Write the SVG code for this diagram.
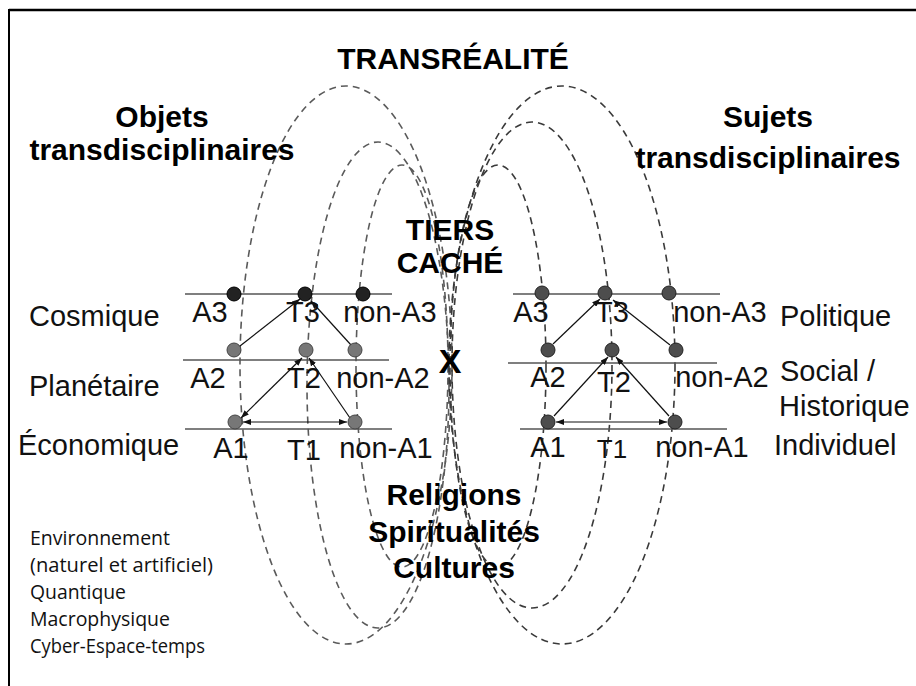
<svg xmlns="http://www.w3.org/2000/svg" width="916" height="686" viewBox="0 0 916 686">
  <style>
    .bold { font-family: "Liberation Sans", Arial, sans-serif; font-weight: bold; font-size: 30px; fill: #000; text-anchor: middle; }
    .lab { font-family: "Liberation Sans", Arial, sans-serif; font-size: 29px; fill: #111; }
    .mid { text-anchor: middle; }
    .small { font-family: "Open Sans", "Noto Sans", sans-serif; font-size: 19.5px; fill: #111; }
    .ellL { fill: none; stroke: #5a5a5a; stroke-width: 1.6; stroke-dasharray: 7 5; }
    .ellR { fill: none; stroke: #3a3a3a; stroke-width: 1.6; stroke-dasharray: 7 5; }
    .hline { stroke: #555; stroke-width: 1.5; }
    .arrow { stroke: #111; stroke-width: 1.2; fill: none; }
    .dotTopL { fill: #222; stroke: #000; stroke-width: 1; }
    .dotL { fill: #777; stroke: #444; stroke-width: 1; }
    .dotR { fill: #4d4d4d; stroke: #222; stroke-width: 1; }
  </style>
  <defs>
    <marker id="ah" markerWidth="8" markerHeight="6" refX="8" refY="3" orient="auto-start-reverse" markerUnits="userSpaceOnUse">
      <path d="M0,0 L8,3 L0,6 z" fill="#111"/>
    </marker>
  </defs>
  <rect width="916" height="686" fill="#fff"/>
  <g id="frame">
    <line x1="9" y1="10" x2="916" y2="10" stroke="#000" stroke-width="2.5"/>
    <line x1="9" y1="9" x2="9" y2="686" stroke="#000" stroke-width="2"/>
  </g>

  <g id="ellipses">
    <ellipse class="ellL" cx="346" cy="365" rx="106" ry="279"/>
    <ellipse class="ellL" cx="378" cy="385" rx="71" ry="243"/>
    <ellipse class="ellL" cx="402" cy="366" rx="46" ry="201"/>
    <ellipse class="ellR" cx="562" cy="365" rx="113" ry="279"/>
    <ellipse class="ellR" cx="532" cy="365" rx="80" ry="243"/>
    <ellipse class="ellR" cx="498" cy="366" rx="48" ry="201"/>
  </g>

  <g id="levels">
    <line class="hline" x1="185" y1="294" x2="392" y2="294"/>
    <line class="hline" x1="183" y1="360" x2="389" y2="360"/>
    <line class="hline" x1="185" y1="429" x2="392" y2="429"/>
    <line class="hline" x1="513" y1="294" x2="720" y2="294"/>
    <line class="hline" x1="508" y1="363" x2="717" y2="363"/>
    <line class="hline" x1="520" y1="429" x2="727" y2="429"/>
  </g>

  <g id="connectors">
    <line class="arrow" x1="240" y1="346" x2="300" y2="299" marker-end="url(#ah)"/>
    <line class="arrow" x1="351" y1="345" x2="311" y2="301" marker-end="url(#ah)"/>
    <line class="arrow" x1="241" y1="418" x2="302" y2="358" marker-start="url(#ah)" marker-end="url(#ah)"/>
    <line class="arrow" x1="350" y1="418" x2="309" y2="358" marker-end="url(#ah)"/>
    <line class="arrow" x1="243" y1="422" x2="347" y2="422" marker-start="url(#ah)" marker-end="url(#ah)"/>
    <line class="arrow" x1="553" y1="344" x2="600" y2="299" marker-end="url(#ah)"/>
    <line class="arrow" x1="670" y1="345" x2="613" y2="300" marker-end="url(#ah)"/>
    <line class="arrow" x1="554" y1="416" x2="608" y2="357" marker-end="url(#ah)"/>
    <line class="arrow" x1="669" y1="416" x2="616" y2="357" marker-end="url(#ah)"/>
    <line class="arrow" x1="556" y1="422" x2="667" y2="422" marker-start="url(#ah)" marker-end="url(#ah)"/>
  </g>

  <g id="left-nodes">
    <g id="L-A3"><circle class="dotTopL" cx="234" cy="294" r="7"/><text class="lab mid" x="210" y="322">A3</text></g>
    <g id="L-T3"><circle class="dotTopL" cx="305" cy="294" r="7"/><text class="lab mid" x="303" y="322">T3</text></g>
    <g id="L-nonA3"><circle class="dotTopL" cx="363" cy="294" r="7"/><text class="lab mid" x="390" y="322">non-A3</text></g>
    <g id="L-A2"><circle class="dotL" cx="234" cy="350" r="7"/><text class="lab mid" x="208" y="388">A2</text></g>
    <g id="L-T2"><circle class="dotL" cx="306" cy="350" r="7"/><text class="lab mid" x="304" y="388">T2</text></g>
    <g id="L-nonA2"><circle class="dotL" cx="355" cy="350" r="7"/><text class="lab mid" x="383" y="388">non-A2</text></g>
    <g id="L-A1"><circle class="dotL" cx="235" cy="422" r="7"/><text class="lab mid" x="231" y="458">A1</text></g>
    <g id="L-T1"><text class="lab mid" x="304" y="460">T1</text></g>
    <g id="L-nonA1"><circle class="dotL" cx="355" cy="422" r="7"/><text class="lab mid" x="386" y="458">non-A1</text></g>
  </g>

  <g id="right-nodes">
    <g id="R-A3"><circle class="dotR" cx="542" cy="293" r="7"/><text class="lab mid" x="531" y="322">A3</text></g>
    <g id="R-T3"><circle class="dotR" cx="605" cy="293" r="7"/><text class="lab mid" x="612" y="322">T3</text></g>
    <g id="R-nonA3"><circle class="dotR" cx="669" cy="293" r="7"/><text class="lab mid" x="720" y="322">non-A3</text></g>
    <g id="R-A2"><circle class="dotR" cx="548" cy="350" r="7"/><text class="lab mid" x="548" y="387">A2</text></g>
    <g id="R-T2"><circle class="dotR" cx="612" cy="350" r="7"/><text class="lab mid" x="614" y="392">T2</text></g>
    <g id="R-nonA2"><circle class="dotR" cx="676" cy="350" r="7"/><text class="lab mid" x="722" y="387">non-A2</text></g>
    <g id="R-A1"><circle class="dotR" cx="548" cy="422" r="7"/><text class="lab mid" x="548" y="457">A1</text></g>
    <g id="R-T1"><text class="lab mid" x="612" y="458" style="font-size:26px">T1</text></g>
    <g id="R-nonA1"><circle class="dotR" cx="675" cy="422" r="7"/><text class="lab mid" x="702" y="457">non-A1</text></g>
  </g>

  <g id="titles">
    <text class="bold" x="453" y="69">TRANSRÉALITÉ</text>
    <text class="bold" x="162" y="127">Objets</text>
    <text class="bold" x="162" y="160">transdisciplinaires</text>
    <text class="bold" x="768" y="127">Sujets</text>
    <text class="bold" x="768" y="168">transdisciplinaires</text>
    <text class="bold" x="450" y="240">TIERS</text>
    <text class="bold" x="450" y="273">CACHÉ</text>
    <text class="bold" x="450" y="373" style="font-size:34px">X</text>
    <text class="bold" x="454" y="505">Religions</text>
    <text class="bold" x="454" y="542">Spiritualités</text>
    <text class="bold" x="454" y="578">Cultures</text>
  </g>

  <g id="left-levels">
    <text class="lab" x="29" y="326">Cosmique</text>
    <text class="lab" x="29" y="396">Planétaire</text>
    <text class="lab" x="18" y="455">Économique</text>
  </g>
  <g id="right-levels">
    <text class="lab" x="780" y="326">Politique</text>
    <text class="lab" x="780" y="381">Social /</text>
    <text class="lab" x="779" y="416">Historique</text>
    <text class="lab" x="774" y="455">Individuel</text>
  </g>

  <g id="domains">
    <text class="small" x="30" y="545" textLength="140" lengthAdjust="spacingAndGlyphs">Environnement</text>
    <text class="small" x="30" y="572" textLength="183" lengthAdjust="spacingAndGlyphs">(naturel et artificiel)</text>
    <text class="small" x="30" y="599" textLength="96" lengthAdjust="spacingAndGlyphs">Quantique</text>
    <text class="small" x="30" y="626" textLength="140" lengthAdjust="spacingAndGlyphs">Macrophysique</text>
    <text class="small" x="30" y="653" textLength="175" lengthAdjust="spacingAndGlyphs">Cyber-Espace-temps</text>
  </g>
</svg>
